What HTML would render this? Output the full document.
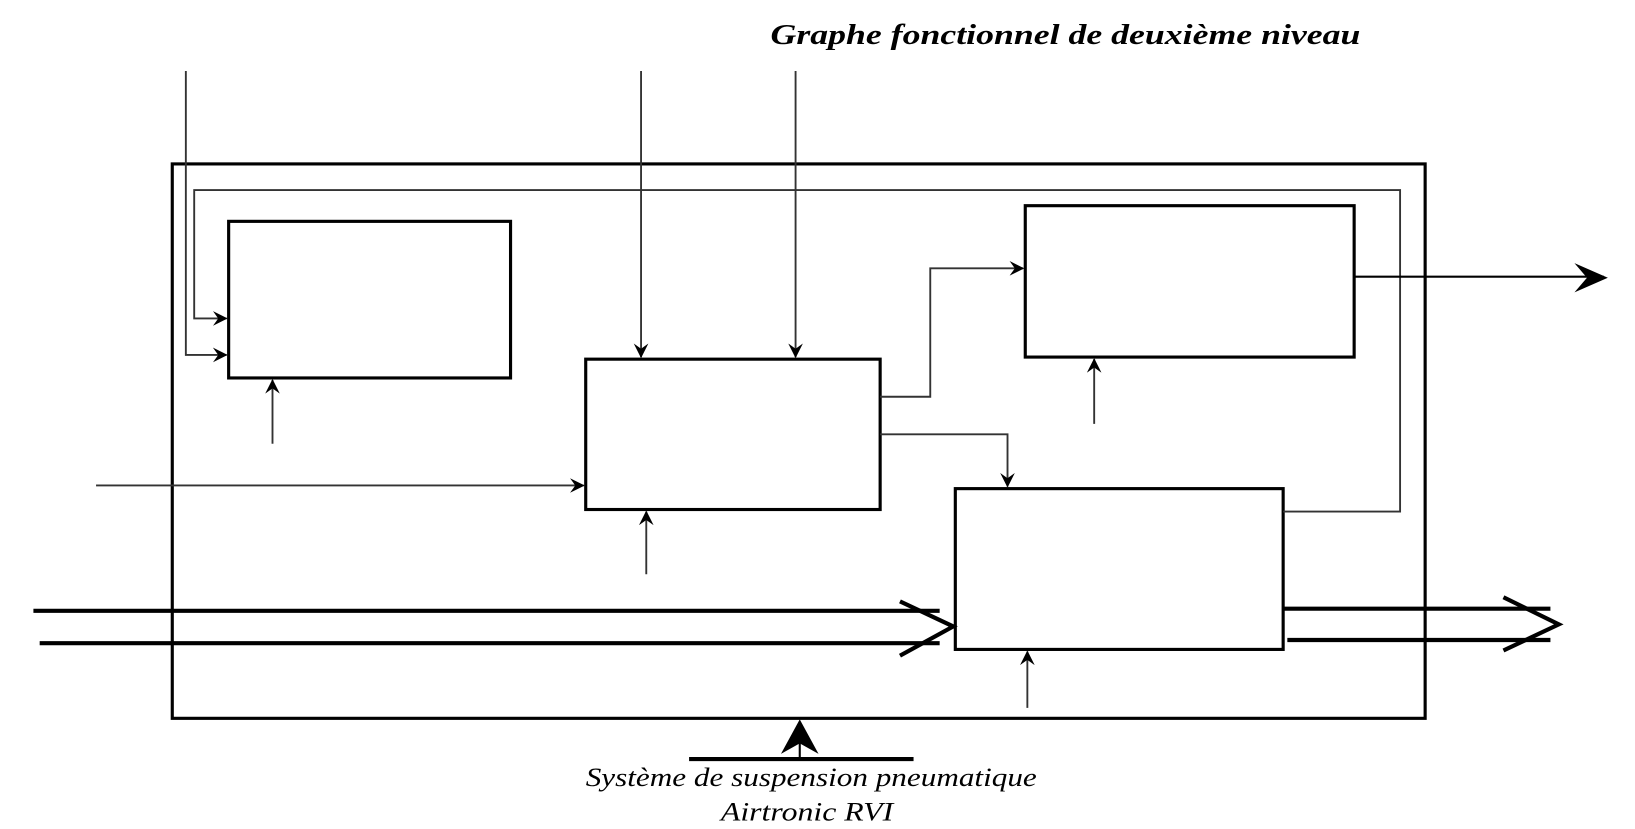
<!DOCTYPE html>
<html><head><meta charset="utf-8"><style>html,body{margin:0;padding:0;background:#fff;}svg{display:block;}</style></head>
<body>
<svg width="1635" height="829" viewBox="0 0 1566 794" preserveAspectRatio="none" xmlns="http://www.w3.org/2000/svg">
<defs>
<marker id="a" viewBox="0 0 14 14" refX="13" refY="7" markerWidth="14" markerHeight="14" markerUnits="userSpaceOnUse" orient="auto">
<path d="M0,0 L14,7 L0,14 L5,7 Z" fill="#000"/>
</marker>
</defs>
<rect width="1566" height="794" fill="#fff"/>
<text x="738" y="42" font-family="'Liberation Serif', serif" font-style="italic" font-weight="bold" font-size="27" textLength="565" lengthAdjust="spacingAndGlyphs">Graphe fonctionnel de deuxième niveau</text>
<g fill="none" stroke="#000" stroke-width="3">
<rect x="165" y="157" width="1200" height="531"/>
<rect x="219" y="212" width="270" height="150"/>
<rect x="561" y="344" width="282" height="144"/>
<rect x="982" y="197" width="315" height="145"/>
<rect x="915" y="468" width="314" height="154"/>
</g>
<g fill="none" stroke="#333" stroke-width="1.8">
<polyline points="178,68 178,340 217,340" marker-end="url(#a)"/>
<polyline points="1229,490 1341,490 1341,182 186,182 186,305 217,305" marker-end="url(#a)"/>
<line x1="614" y1="68" x2="614" y2="342" marker-end="url(#a)"/>
<line x1="762" y1="68" x2="762" y2="342" marker-end="url(#a)"/>
<line x1="261" y1="425" x2="261" y2="364" marker-end="url(#a)"/>
<line x1="619" y1="550" x2="619" y2="490" marker-end="url(#a)"/>
<line x1="1048" y1="406" x2="1048" y2="344" marker-end="url(#a)"/>
<line x1="984" y1="678" x2="984" y2="624" marker-end="url(#a)"/>
<line x1="92" y1="465" x2="559" y2="465" marker-end="url(#a)"/>
<polyline points="843,380 891,380 891,257 980,257" marker-end="url(#a)"/>
<polyline points="843,416 965,416 965,466" marker-end="url(#a)"/>
</g>
<g fill="none" stroke="#000" stroke-width="2">
<line x1="1297" y1="265" x2="1536" y2="265"/>
</g>
<path d="M1508,252 L1540,266 L1508,280 L1520,266 Z" fill="#000"/>
<g fill="none" stroke="#000" stroke-width="4">
<line x1="32" y1="585" x2="900" y2="585"/>
<line x1="38" y1="616" x2="900" y2="616"/>
<polyline points="862,576 913,600 862,628"/>
<line x1="1229" y1="583" x2="1485" y2="583"/>
<line x1="1233" y1="613" x2="1485" y2="613"/>
<polyline points="1440,572 1493,598 1440,623"/>
<line x1="660" y1="727" x2="875" y2="727"/>
</g>
<line x1="766" y1="727" x2="766" y2="700" stroke="#000" stroke-width="2"/>
<path d="M766,689 L784,722 L766,712 L748,722 Z" fill="#000"/>
<g font-family="'Liberation Serif', serif" font-style="italic" font-size="25" text-anchor="middle">
<text x="777" y="753" textLength="432" lengthAdjust="spacingAndGlyphs">Système de suspension pneumatique</text>
<text x="773" y="786" textLength="165" lengthAdjust="spacingAndGlyphs">Airtronic RVI</text>
</g>
</svg>
</body></html>
